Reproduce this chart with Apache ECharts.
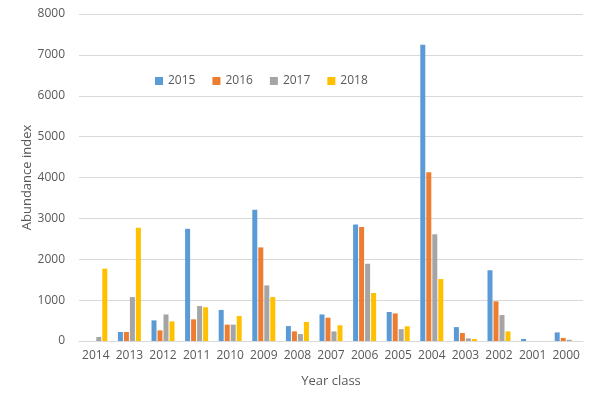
<!DOCTYPE html>
<html>
<head>
<meta charset="utf-8">
<script src="https://cdn.jsdelivr.net/npm/echarts@6/dist/echarts.min.js"></script>
<style>
  html, body { margin: 0; padding: 0; background: #fff; }
  #chart { width: 595px; height: 397px; }
</style>
</head>
<body>
<div id="chart"></div>
<script>
// year classes and abundance index per survey year
const yearClasses = ['2014', '2013', '2012', '2011', '2010', '2009', '2008', '2007', '2006', '2005', '2004', '2003', '2002', '2001', '2000'];
const s2015 = [0, 220, 505, 2745, 760, 3210, 365, 650, 2850, 710, 7250, 340, 1730, 50, 210];
const s2016 = [0, 220, 260, 530, 400, 2290, 235, 570, 2790, 675, 4130, 195, 970, 0, 75];
const s2017 = [100, 1075, 650, 855, 400, 1360, 170, 235, 1890, 290, 2610, 65, 635, 0, 30];
const s2018 = [1770, 2770, 480, 825, 610, 1075, 465, 385, 1175, 360, 1515, 50, 235, 0, 0];
const seriesNames = ['2015', '2016', '2017', '2018'];
const colors = ['#5B9BD5', '#ED7D31', '#A5A5A5', '#FFC000'];

const font = 'Open Sans';
const chart = echarts.init(document.getElementById('chart'));
const data = [s2015, s2016, s2017, s2018];

chart.setOption({
    animation: false,
    color: colors,
    textStyle: { fontFamily: font },
    grid: { left: 79, right: 12, top: 14, bottom: 56 },
    legend: {
        left: 150, top: 70, itemWidth: 8, itemHeight: 8, itemGap: 17,
        icon: 'rect',
        textStyle: { fontSize: 12, color: '#595959', fontFamily: font },
        data: seriesNames
    },
    xAxis: {
        type: 'category', data: yearClasses,
        name: 'Year class', nameLocation: 'middle', nameGap: 34,
        nameTextStyle: { fontSize: 13, color: '#595959', fontFamily: font },
        axisLine: { lineStyle: { color: '#D9D9D9' } },
        axisTick: { show: false },
        axisLabel: { fontSize: 12, color: '#595959', margin: 9, interval: 0 }
    },
    yAxis: {
        type: 'value', min: 0, max: 8000, interval: 1000,
        name: 'Abundance index', nameLocation: 'middle', nameGap: 45,
        nameMoveOverlap: false,
        nameTextStyle: { fontSize: 13, color: '#595959', fontFamily: font },
        axisLabel: { fontSize: 12, color: '#595959', margin: 14, formatter: v => String(v) },
        splitLine: { lineStyle: { color: '#D9D9D9' } }
    },
    series: seriesNames.map((n, i) => ({
        name: n, type: 'bar', data: data[i],
        barWidth: 5, barGap: '20%'
    }))
});
</script>
</body>
</html>
